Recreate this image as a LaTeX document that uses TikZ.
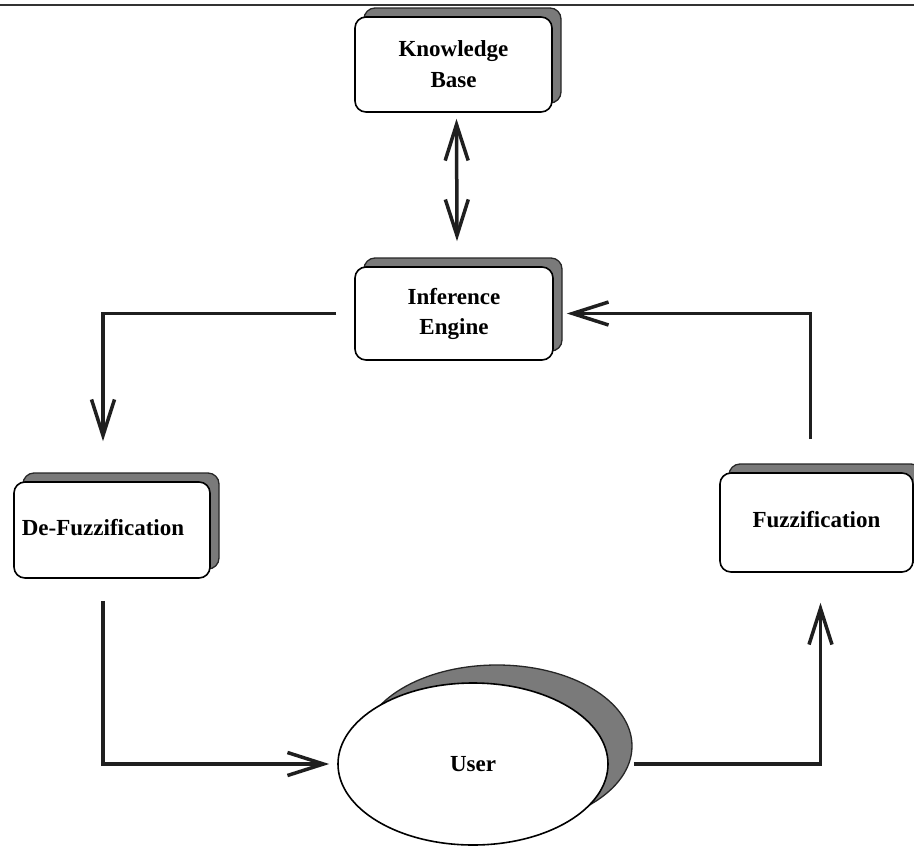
\documentclass[tikz,border=0pt]{standalone}
\usepackage{fontspec}
\setmainfont{Liberation Serif}
\usetikzlibrary{shapes.geometric,shadows,arrows.meta}

\tikzset{
  unitbox/.style={draw=black, line width=1.6pt, fill=white, rounded corners=11pt,
    inner sep=0pt, align=center, font=\fontsize{23}{31}\selectfont\bfseries,
    copy shadow={shadow xshift=9pt, shadow yshift=9pt, fill=black!52, draw=black!85, line width=1.3pt}},
  userball/.style={ellipse, draw=black, line width=1.6pt, fill=white, inner sep=0pt,
    minimum width=270pt, minimum height=162pt, font=\fontsize{23}{31}\selectfont\bfseries,
    copy shadow={shadow xshift=24pt, shadow yshift=18pt, fill=black!52, draw=black!85, line width=1.3pt}},
  barb/.tip={Straight Barb[length=36pt, width=23pt, line width=3.5pt]},
  flow/.style={line width=3.5pt, black!88, line join=miter, -barb},
}

\begin{document}
\begin{tikzpicture}[x=1pt, y=-1pt]
  \useasboundingbox (0,0) rectangle (914,847);

  % rule across the head of the page
  \draw[line width=2.5pt, black!80] (0,5) -- (914,5);

  % system blocks
  \node[unitbox, minimum width=197pt, minimum height=95pt] (kb) at (453.5,64.5) {Knowledge\\Base};
  \node[unitbox, minimum width=198pt, minimum height=93pt] (ie) at (454,313.5) {Inference\\[-1pt]Engine};
  \node[unitbox, minimum width=196pt, minimum height=96pt] (df) at (112,530) {\raisebox{6pt}{De-Fuzzification\hspace{18pt}}};
  \node[unitbox, minimum width=193pt, minimum height=99pt] (fz) at (816.5,522.5) {\raisebox{7pt}{Fuzzification}};
  \node[userball] (user) at (473,764) {User};

  % knowledge exchange
  \draw[flow, barb-barb]
    ([xshift=3pt, yshift=-6pt]kb.south) -- ([xshift=3pt, yshift=25pt]ie.north);

  % processing loop
  \draw[flow] ([xshift=-18pt]ie.west) -| ([xshift=-9pt, yshift=40pt]df.north);
  \draw[flow] ([xshift=-9pt, yshift=-22pt]df.south) |- ([xshift=-8pt]user.west);
  \draw[flow] ([xshift=25pt]user.east) -| ([xshift=4pt, yshift=-30pt]fz.south);
  \draw[flow] ([xshift=-6pt, yshift=33pt]fz.north) |- ([xshift=13pt]ie.east);
\end{tikzpicture}
\end{document}
